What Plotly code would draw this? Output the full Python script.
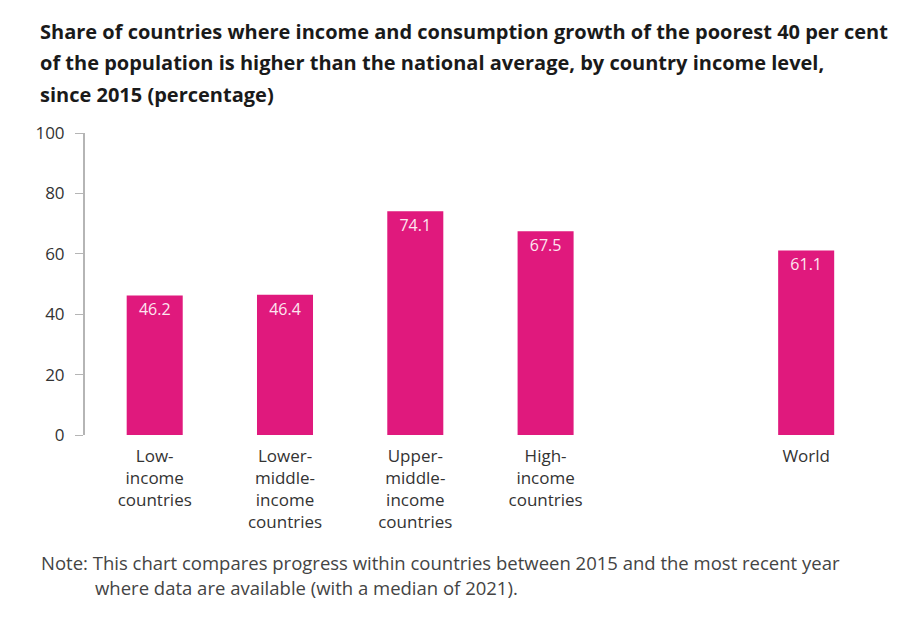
import plotly.graph_objects as go

# Data
categories = ["Low-<br>income<br>countries", "Lower-<br>middle-<br>income<br>countries",
              "Upper-<br>middle-<br>income<br>countries", "High-<br>income<br>countries", "World"]
values = [46.2, 46.4, 74.1, 67.5, 61.1]
value_labels = ["46.2", "46.4", "74.1", "67.5", "61.1"]
y_ticks = [0, 20, 40, 60, 80, 100]

title_lines = [
    "Share of countries where income and consumption growth of the poorest 40 per cent",
    "of the population is higher than the national average, by country income level,",
    "since 2015 (percentage)",
]
note_lines = [
    "Note: This chart compares progress within countries between 2015 and the most recent year",
    "where data are available (with a median of 2021).",
]

FONT = "Open Sans"
PINK = "#e0197d"

# blank slot between the income groups and World
category_order = categories[:4] + [" "] + categories[4:]

fig = go.Figure()

fig.add_trace(go.Bar(
    x=categories,
    y=values,
    text=value_labels,
    textposition="inside",
    insidetextanchor="end",
    textfont=dict(family=FONT, size=16, color="#fde6f0"),
    marker=dict(color=PINK, line=dict(width=0)),
    width=0.43,
    hoverinfo="x+y",
))

# page body adds an 8px margin, so the figure is shrunk by that much
fig.update_layout(
    width=904,
    height=610,
    margin=dict(l=77, r=24, t=125, b=183),
    paper_bgcolor="white",
    plot_bgcolor="white",
    showlegend=False,
    font=dict(family=FONT, color="#333333"),
    xaxis=dict(
        type="category",
        categoryorder="array",
        categoryarray=category_order,
        range=[-0.535, 5.628],
        showgrid=False,
        showline=False,
        zeroline=False,
        ticks="",
        ticklabelstandoff=9,
        tickfont=dict(family=FONT, size=17, color="#333333"),
    ),
    yaxis=dict(
        range=[0, 100],
        tickvals=y_ticks,
        showgrid=False,
        zeroline=False,
        showline=True,
        linecolor="#b5b5b5",
        linewidth=2,
        ticks="outside",
        ticklen=8,
        tickcolor="#b5b5b5",
        tickwidth=1,
        ticklabelstandoff=7,
        tickfont=dict(family=FONT, size=17, color="#333333"),
    ),
)

# title, one annotation per line to match the wide line spacing
for i, line in enumerate(title_lines):
    fig.add_annotation(
        text="<b>" + line + "</b>",
        xref="paper", yref="paper",
        x=-0.059, y=1.337 - i * 0.104,
        xanchor="left", yanchor="middle",
        showarrow=False,
        font=dict(family=FONT, size=20, color="#1a1a1a"),
    )

# note below the chart
fig.add_annotation(
    text=note_lines[0],
    xref="paper", yref="paper",
    x=-0.057, y=-0.422,
    xanchor="left", yanchor="middle",
    showarrow=False,
    font=dict(family=FONT, size=18.5, color="#444444"),
)
fig.add_annotation(
    text=note_lines[1],
    xref="paper", yref="paper",
    x=0.010, y=-0.505,
    xanchor="left", yanchor="middle",
    showarrow=False,
    font=dict(family=FONT, size=18.5, color="#444444"),
)

fig.write_html("out.html")
